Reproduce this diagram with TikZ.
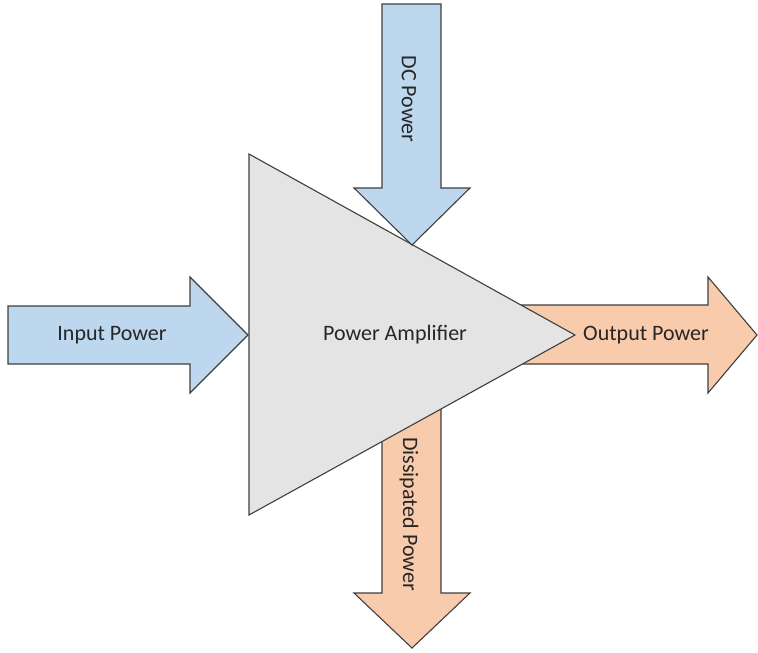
\documentclass[tikz,border=0pt]{standalone}
\usepackage{fontspec}
\setmainfont{Carlito}
\definecolor{bluefill}{HTML}{BDD7EE}
\definecolor{orangefill}{HTML}{F8CBAD}
\definecolor{trifill}{HTML}{E4E4E4}
\definecolor{edge}{HTML}{3F3F3F}
\definecolor{txt}{HTML}{262626}
\begin{document}
\begin{tikzpicture}[x=1pt,y=-1pt,
  blockshape/.style={draw=edge,line width=1.1pt,line join=miter},
  lbl/.style={text=txt,font=\fontsize{22}{25}\selectfont,inner sep=0pt}]
\useasboundingbox (0,0) rectangle (758,653);
% arrows behind the triangle
\filldraw[blockshape,fill=orangefill] (500,305) -- (708,305) -- (708,277) -- (757,335) -- (708,393) -- (708,364) -- (500,364) -- cycle;
\filldraw[blockshape,fill=orangefill] (382,395) -- (382,593) -- (354,593) -- (412,648) -- (470,593) -- (441,593) -- (441,395) -- cycle;
% triangle
\filldraw[blockshape,fill=trifill] (249,154) -- (575,335) -- (249,515) -- cycle;
% arrows in front
\filldraw[blockshape,fill=bluefill] (382,4) -- (441,4) -- (441,188) -- (470,188) -- (412,245) -- (354,188) -- (382,188) -- cycle;
\filldraw[blockshape,fill=bluefill] (8,306) -- (190,306) -- (190,277) -- (248,335) -- (190,393) -- (190,364) -- (8,364) -- cycle;
% labels
\node[lbl] (amp) at (395,335) {Power Amplifier};
\node[lbl] (in) at (112,335) {Input Power};
\node[lbl] (out) at (646,335) {Output Power};
\node[lbl,rotate=-90] (dc) at (409,99) {DC Power};
\node[lbl,rotate=-90] (diss) at (409,514) {Dissipated Power};
\end{tikzpicture}
\end{document}
